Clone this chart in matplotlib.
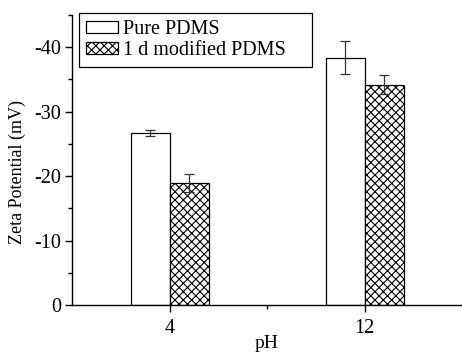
import matplotlib
matplotlib.use("Agg")
import matplotlib.pyplot as plt
import numpy as np
from matplotlib.ticker import MultipleLocator, FuncFormatter, FixedLocator

categories = ["4", "12"]
pure = [26.7, 38.4]
pure_err = [0.45, 2.5]
modified = [18.9, 34.2]
modified_err = [1.4, 1.45]
series_names = ["Pure PDMS", "1 d modified PDMS"]

plt.rcParams['font.family'] = ['Liberation Serif', 'DejaVu Serif']
plt.rcParams['hatch.linewidth'] = 0.8

fig = plt.figure(figsize=(4.62, 3.54), dpi=100)
ax = fig.add_axes([72/462, 1-305/354, 1-72/462, (305-15)/354])

x = np.arange(len(categories))
w = 0.2
ax.bar(x - w/2, pure, w, color='white', edgecolor='black', linewidth=0.9,
       label=series_names[0])
ax.bar(x + w/2, modified, w, color='white', edgecolor='black', linewidth=0.9,
       hatch='xxxx', label=series_names[1])
ax.errorbar(x - w/2, pure, yerr=pure_err, fmt='none', ecolor='#333333',
            elinewidth=0.9, capsize=3.5, capthick=0.9)
ax.errorbar(x + w/2, modified, yerr=modified_err, fmt='none', ecolor='#333333',
            elinewidth=0.9, capsize=3.5, capthick=0.9)

ax.set_xlim(-0.5, 1.5)
ax.set_ylim(0, 45)
ax.set_xticks(x)
ax.set_xticklabels(categories)
ax.xaxis.set_minor_locator(FixedLocator([0.5]))
ax.yaxis.set_major_locator(MultipleLocator(10))
ax.yaxis.set_minor_locator(MultipleLocator(5))
ax.yaxis.set_major_formatter(FuncFormatter(lambda v, p: "0" if v == 0 else f"-{v:.0f}"))

for s in ['top', 'right']:
    ax.spines[s].set_visible(False)
for s in ['left', 'bottom']:
    ax.spines[s].set_linewidth(1.0)
ax.tick_params(axis='both', which='major', direction='out', length=5, width=1.0,
               labelsize=14.5)
ax.tick_params(axis='y', which='major', pad=3)
ax.tick_params(axis='x', which='major', pad=5)
ax.tick_params(axis='both', which='minor', direction='out', length=3, width=1.0)

ax.set_xlabel("pH", fontsize=14, labelpad=-2)
ax.set_ylabel("Zeta Potential (mV)", fontsize=13)
ax.yaxis.set_label_coords(-0.118, 0.459)

leg = ax.legend(loc='upper left', bbox_to_anchor=(0.018, 0.82, 233/390, 0.187),
                mode='expand', fontsize=14.5,
                frameon=True, fancybox=False, edgecolor='black', framealpha=1,
                handlelength=1.6, handleheight=0.55, handletextpad=0.25,
                borderpad=0.35, labelspacing=0.1, borderaxespad=0)
leg.get_frame().set_linewidth(0.9)

fig.savefig("out.png", dpi=100)
